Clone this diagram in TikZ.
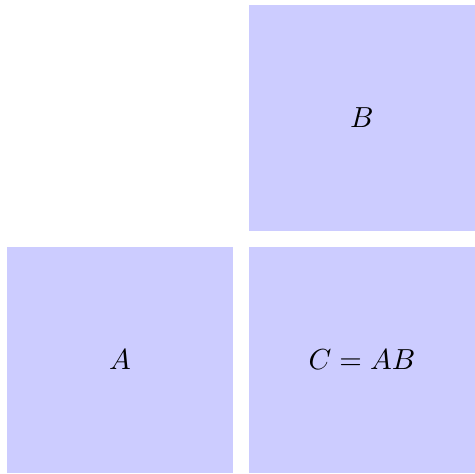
\documentclass[tikz,border=0pt]{standalone}
\usepackage{amsmath, amssymb}
\usepackage{tikz}
\usepackage{xcolor}
\usetikzlibrary{positioning}

\tikzset{
  matbox/.style={fill=blue!20, minimum size=3cm, inner sep=0pt, outer sep=0pt,
    font=\fontsize{11pt}{13pt}\selectfont}
}

\begin{document}
\begin{tikzpicture}
  % factors and product
  \node[matbox] (A) at (0,0) {$A$};
  \node[matbox, right=0.21cm of A] (C) {$C = AB$};
  \node[matbox, above=0.21cm of C] (B) {$B$};
  % margins
  \useasboundingbox ([xshift=-0.0925cm]A.south west) rectangle ([yshift=0.066cm]B.north east);
\end{tikzpicture}
\end{document}
